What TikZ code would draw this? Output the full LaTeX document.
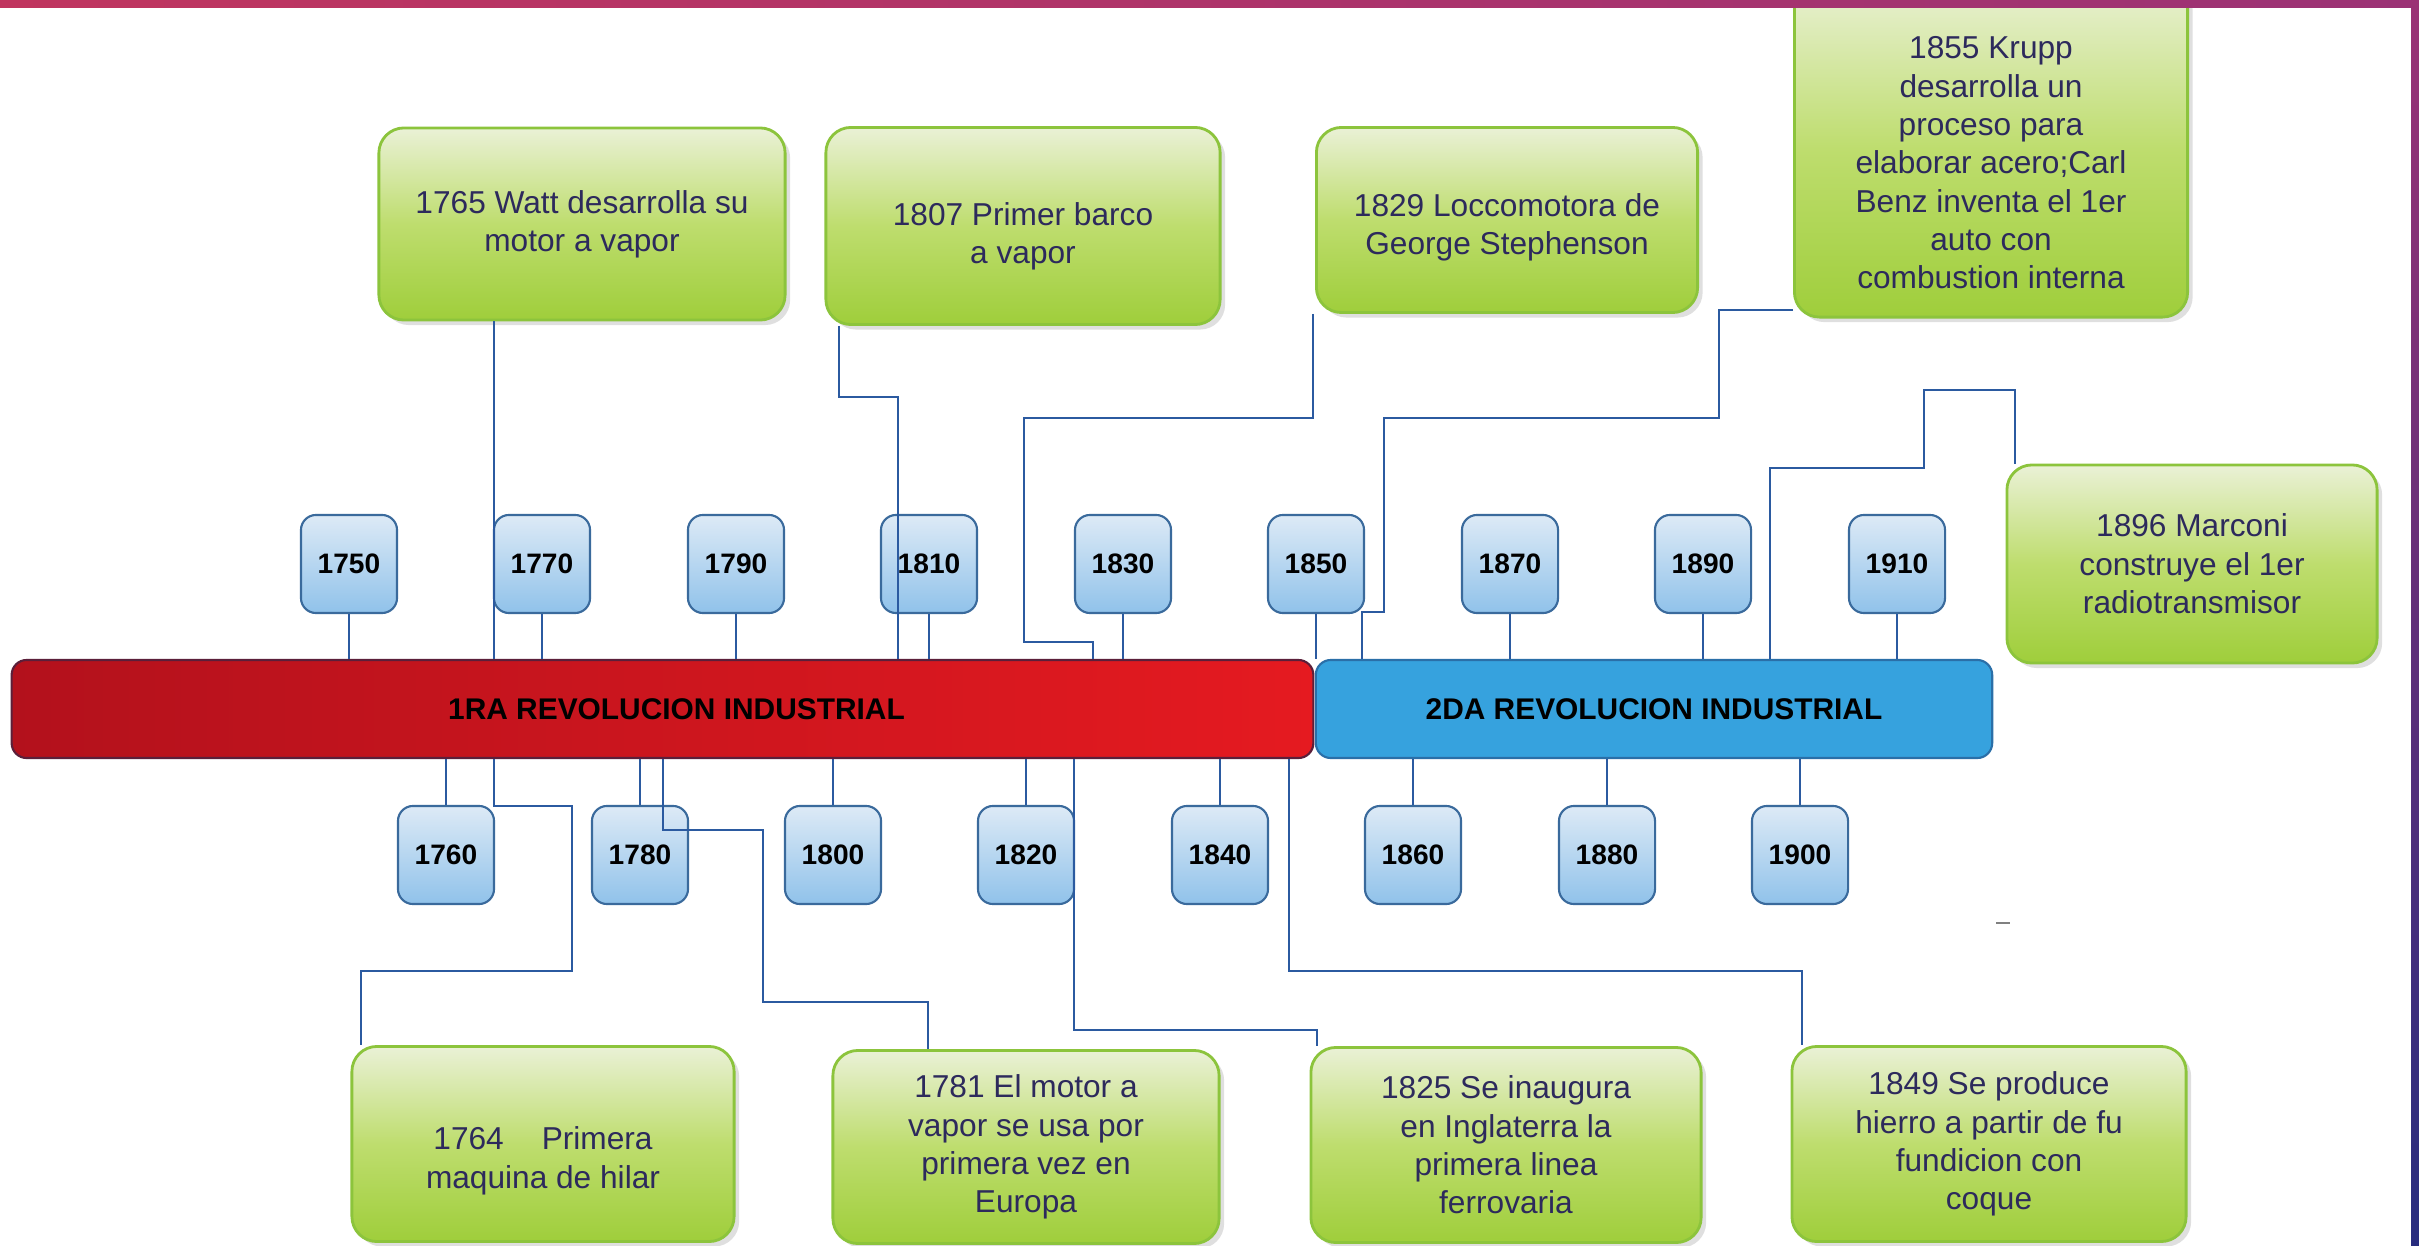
\documentclass[tikz,border=0pt]{standalone}
\usepackage{fontspec}
\setmainfont{Liberation Sans}
\usepackage{xcolor}
\usepackage{tikz}
\usetikzlibrary{shadows}
\definecolor{evtext}{HTML}{2D2A5C}
\definecolor{greenedge}{HTML}{8CC43C}
\definecolor{greentop}{HTML}{EAF1D6}
\definecolor{greenmid}{HTML}{BEDD6E}
\definecolor{greenbot}{HTML}{9FCE3B}
\definecolor{yearedge}{HTML}{3A6A9C}
\definecolor{yeartop}{HTML}{DDEAF6}
\definecolor{yearbot}{HTML}{90C2EA}
\definecolor{linkblue}{HTML}{2B5AA0}
\definecolor{redl}{HTML}{B3111C}
\definecolor{redr}{HTML}{E51A20}
\definecolor{redge}{HTML}{5B1F3A}
\definecolor{bluebar}{HTML}{36A2DE}
\definecolor{blueedge}{HTML}{2A6FA8}
\definecolor{bandpink}{HTML}{C0355F}
\definecolor{bandpurple}{HTML}{9B3275}
\definecolor{bandnavy}{HTML}{272C7E}
\newcommand{\evpad}[1]{\rule{0pt}{#1}}
\tikzset{
  event/.style={rounded corners=0.25cm, draw=greenedge, line width=0.8pt,
    top color=greentop, bottom color=greenbot, middle color=greenmid,
    drop shadow={opacity=0.25, shadow xshift=0.05cm, shadow yshift=-0.05cm},
    text=evtext, align=center, inner sep=0pt,
    font=\fontsize{9}{10.9}\selectfont,
    minimum width=3.9cm, minimum height=1.95cm},
  yearbox/.style={rounded corners=0.15cm, draw=yearedge, line width=0.6pt,
    top color=yeartop, bottom color=yearbot, inner sep=0pt,
    minimum width=0.96cm, minimum height=0.98cm,
    font=\bfseries\fontsize{8}{9.6}\selectfont},
  era/.style={rounded corners=0.15cm, line width=0.6pt, inner sep=0pt,
    minimum height=0.98cm, font=\bfseries\fontsize{8.5}{10}\selectfont},
  link/.style={draw=linkblue, line width=0.7pt}
}

\begin{document}
\begin{tikzpicture}[x=0.01cm, y=-0.01cm]
  \useasboundingbox (0,0) rectangle (2419,1246);
  \fill[white] (0,0) rectangle (2419,1246);

  % eras
  \node[era, draw=redge, left color=redl, right color=redr, minimum width=13.01cm] (red) at (662.5,709) {\hspace*{0.28cm}1RA REVOLUCION INDUSTRIAL};
  \node[era, draw=blueedge, fill=bluebar, minimum width=6.76cm] (blue) at (1654,709) {2DA REVOLUCION INDUSTRIAL};

  % years above
  \node[yearbox] (y1750) at (349,564) {1750};
  \node[yearbox] (y1770) at (542,564) {1770};
  \node[yearbox] (y1790) at (736,564) {1790};
  \node[yearbox] (y1810) at (929,564) {1810};
  \node[yearbox] (y1830) at (1123,564) {1830};
  \node[yearbox] (y1850) at (1316,564) {1850};
  \node[yearbox] (y1870) at (1510,564) {1870};
  \node[yearbox] (y1890) at (1703,564) {1890};
  \node[yearbox] (y1910) at (1897,564) {1910};
  % years below
  \node[yearbox] (y1760) at (446,855) {1760};
  \node[yearbox] (y1780) at (640,855) {1780};
  \node[yearbox] (y1800) at (833,855) {1800};
  \node[yearbox] (y1820) at (1026,855) {1820};
  \node[yearbox] (y1840) at (1220,855) {1840};
  \node[yearbox] (y1860) at (1413,855) {1860};
  \node[yearbox] (y1880) at (1607,855) {1880};
  \node[yearbox] (y1900) at (1800,855) {1900};

  \draw[link] (y1750.south) -- (y1750 |- red.north)
    (y1770.south) -- (y1770 |- red.north)
    (y1790.south) -- (y1790 |- red.north)
    (y1810.south) -- (y1810 |- red.north)
    (y1830.south) -- (y1830 |- red.north)
    (y1850.south) -- (y1850 |- red.north)
    (y1870.south) -- (y1870 |- blue.north)
    (y1890.south) -- (y1890 |- blue.north)
    (y1910.south) -- (y1910 |- blue.north);
  \draw[link] (y1760 |- red.south) -- (y1760.north)
    (y1780 |- red.south) -- (y1780.north)
    (y1800 |- red.south) -- (y1800.north)
    (y1820 |- red.south) -- (y1820.north)
    (y1840 |- red.south) -- (y1840.north)
    (y1860 |- blue.south) -- (y1860.north)
    (y1880 |- blue.south) -- (y1880.north)
    (y1900 |- blue.south) -- (y1900.north);

  % events
  \node[event, minimum width=4.06cm, minimum height=1.92cm] (e1765) at (582,224) {1765 Watt desarrolla su\\motor a vapor};
  \node[event, minimum width=3.94cm, minimum height=1.97cm] (e1807) at (1023,226) {\evpad{12.3pt}1807 Primer barco\\a vapor};
  \node[event, minimum width=3.81cm, minimum height=1.85cm] (e1829) at (1507,220) {\evpad{10.6pt}1829 Loccomotora de\\George Stephenson};
  \node[event, minimum width=3.93cm, minimum height=3.37cm] (e1855) at (1991,148.5) {\evpad{14.5pt}1855 Krupp\\desarrolla un\\proceso para\\elaborar acero;Carl\\Benz inventa el 1er\\auto con\\combustion interna};
  \node[event, minimum width=3.7cm, minimum height=1.98cm] (e1896) at (2192,564) {1896 Marconi\\construye el 1er\\radiotransmisor};
  \node[event, minimum width=3.82cm] (e1764) at (543,1144) {\evpad{16.1pt}1764\hspace{1.2em}Primera\\maquina de hilar};
  \node[event, minimum width=3.86cm, minimum height=1.93cm] (e1781) at (1026,1147) {1781 El motor a\\vapor se usa por\\primera vez en\\Europa};
  \node[event] (e1825) at (1506,1145) {1825 Se inaugura\\en Inglaterra la\\primera linea\\ferrovaria};
  \node[event, minimum width=3.94cm] (e1849) at (1989,1144) {1849 Se produce\\hierro a partir de fu\\fundicion con\\coque};

  \draw[link] (494,0 |- e1765.south) -- (494,0 |- red.north);
  \draw[link] (839,0 |- e1807.south) |- (898,397) -- (898,0 |- red.north);
  \draw[link] (1313,0 |- e1829.south) |- (1024,418) |- (1093,642) -- (1093,0 |- red.north);
  \draw[link] (e1855.west |- 0,310) -| (1719,418) -- (1384,418) |- (1362,612) -- (1362,0 |- blue.north);
  \draw[link] (2015,0 |- e1896.north) |- (1924,390) |- (1770,468) -- (1770,0 |- blue.north);
  \draw[link] (494,0 |- red.south) |- (572,806) |- (361,971) -- (361,0 |- e1764.north);
  \draw[link] (663,0 |- red.south) |- (763,830) |- (928,1002) -- (928,0 |- e1781.north);
  \draw[link] (1074,0 |- red.south) |- (1317,1030) -- (1317,0 |- e1825.north);
  \draw[link] (1289,0 |- red.south) |- (1802,971) -- (1802,0 |- e1849.north);

  \draw[gray, line width=0.8pt] (1996,923) -- (2010,923);

  % frame
  \fill[left color=bandpink, right color=bandpurple] (0,0) rectangle (2419,8);
  \fill[top color=bandpurple, bottom color=bandnavy] (2411,0) rectangle (2419,1246);
\end{tikzpicture}
\end{document}
